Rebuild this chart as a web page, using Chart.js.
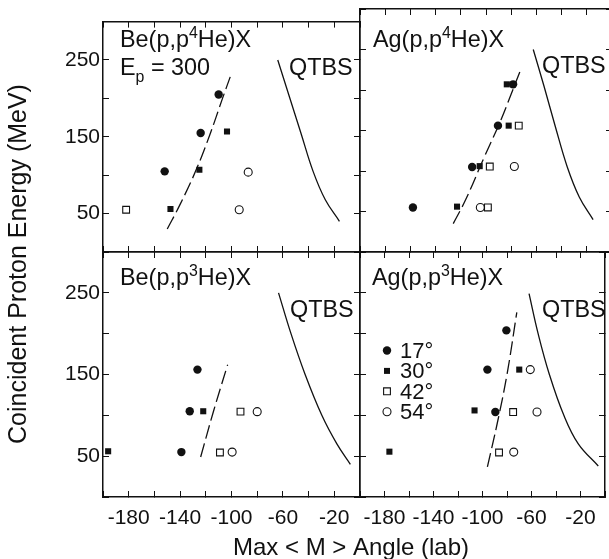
<!DOCTYPE html>
<html>
<head>
<meta charset="utf-8">
<script src="https://cdn.jsdelivr.net/npm/chart.js@4.4.1/dist/chart.umd.min.js"></script>
<style>
  html, body { margin: 0; padding: 0; background: #fff; overflow: hidden; width: 609px; height: 559px; }
  canvas { position: absolute; left: 0; top: 0; }
</style>
</head>
<body>
<canvas id="beHe4" width="620" height="559"></canvas>
<canvas id="agHe4" width="620" height="559"></canvas>
<canvas id="beHe3" width="620" height="559"></canvas>
<canvas id="agHe3" width="620" height="559"></canvas>
<script>
// axes: max <M> angle in degrees (lab), coincident proton energy in MeV
var angleRange = [-200, 0];
var energyRange = [0, 300];
var angleLabels = [-180, -140, -100, -60, -20];
var energyLabels = [50, 150, 250];
var detectorAngles = ['17°', '30°', '42°', '54°'];

// Be(p,p4He)X, Ep = 300
var be4_17 = [[-110, 205], [-124, 155], [-152, 105]];
var be4_30 = [[-103.5, 157], [-125, 107], [-147.5, 56]];
var be4_42 = [[-182, 55]];
var be4_54 = [[-87, 104], [-94, 55]];
var be4_fit = [[-150, 30], [-140, 62], [-128, 105], [-117, 152], [-107, 200], [-101, 228]];
var be4_qtbs = [[-64, 250], [-55.5, 205], [-46, 155], [-36.5, 105], [-27, 68], [-16, 40]];

// Ag(p,p4He)X
var ag4_17 = [[-158, 55], [-111, 105], [-90.5, 156], [-78.5, 207]];
var ag4_30 = [[-123, 56], [-105, 106], [-82, 156], [-83.5, 207]];
var ag4_42 = [[-98.5, 55], [-97, 105.5], [-74, 156]];
var ag4_54 = [[-104.5, 55], [-77.5, 105.5]];
var ag4_fit = [[-126, 35], [-116, 65], [-102, 115], [-89, 160], [-80, 195], [-72, 227]];
var ag4_qtbs = [[-62.5, 250], [-54, 205], [-45, 155], [-35.5, 105], [-26, 68], [-15, 40]];

// Be(p,p3He)X
var be3_17 = [[-126.5, 156], [-132.5, 105], [-139, 55]];
var be3_30 = [[-122, 105], [-196, 56]];
var be3_42 = [[-93, 104.5], [-109, 54.5]];
var be3_54 = [[-80, 104.5], [-99.5, 55]];
var be3_fit = [[-124, 49], [-114, 105], [-103, 162]];
var be3_qtbs = [[-63.4, 250], [-53.7, 200], [-42.7, 150], [-29.7, 100], [-18, 65], [-7.5, 40]];

// Ag(p,p3He)X
var ag3_17 = [[-80.5, 204], [-96, 156], [-89.5, 104]];
var ag3_30 = [[-70, 156], [-106.5, 106], [-176, 55.5]];
var ag3_42 = [[-75, 104], [-86.5, 54.5]];
var ag3_54 = [[-61, 156], [-55.5, 104], [-74.5, 55]];
var ag3_fit = [[-96, 37], [-88, 90], [-80, 150], [-72, 226]];
var ag3_qtbs = [[-62, 249], [-54.6, 200], [-45.4, 150], [-33.6, 100], [-21.8, 65], [-5.5, 38]];

var FONT = "'Liberation Sans', Arial, Helvetica, sans-serif";
var INK = '#111';
var W = 620, H = 559;

function pairs(a) {
    return a.map(function (p) { return { x: p[0], y: p[1] }; });
}

// frame side with inward ticks; size is the room the axis takes outside the plot
function axis(pos, range, step, labels, show, size) {
    var horizontal = pos === 'top' || pos === 'bottom';
    return {
        type: 'linear',
        position: pos,
        min: range[0],
        max: range[1],
        border: { display: true, color: INK, width: 1.5 },
        grid: { drawOnChartArea: false, color: INK, lineWidth: 1, tickLength: -6 },
        ticks: {
            display: show,
            stepSize: step,
            autoSkip: false,
            maxRotation: 0,
            padding: horizontal ? 15 : 9,
            color: INK,
            font: { family: FONT, size: 21 },
            callback: function (v) { return labels.indexOf(v) >= 0 ? String(v) : ''; }
        },
        afterFit: function (s) {
            if (horizontal) s.height = size; else s.width = size;
        }
    };
}

// text made of runs, with raised / lowered pieces
function drawRuns(ctx, x, y, runs, size) {
    ctx.textAlign = 'left';
    ctx.textBaseline = 'alphabetic';
    runs.forEach(function (r) {
        var s = (r.sup || r.sub) ? size * 0.68 : size;
        var dy = r.sup ? -size * 0.4 : (r.sub ? size * 0.3 : 0);
        ctx.font = s + 'px ' + FONT;
        ctx.fillText(r.t, x, y + dy);
        x += ctx.measureText(r.t).width;
    });
}

function markerDatasets(p) {
    return [
        { data: pairs(p.d17), pointStyle: 'circle', pointRadius: 4.2, backgroundColor: INK, borderWidth: 0 },
        { data: pairs(p.d30), pointStyle: 'rect', pointRadius: 4.3, backgroundColor: INK, borderWidth: 0 },
        { data: pairs(p.d42), pointStyle: 'rect', pointRadius: 4.8, backgroundColor: '#fff', borderColor: INK, borderWidth: 1.1 },
        { data: pairs(p.d54), pointStyle: 'circle', pointRadius: 4, backgroundColor: '#fff', borderColor: INK, borderWidth: 1.1 },
        { data: pairs(p.fit), showLine: true, pointRadius: 0, borderColor: INK, borderWidth: 1.3, borderDash: [14, 5], tension: 0.4 },
        { data: pairs(p.qtbs), showLine: true, pointRadius: 0, borderColor: INK, borderWidth: 1.3, tension: 0.4 }
    ];
}

function drawLegend(ctx) {
    var x = 387, y0 = 350.5, step = 20.4;
    detectorAngles.forEach(function (lab, i) {
        var y = y0 + i * step;
        ctx.beginPath();
        ctx.lineWidth = 1.1;
        ctx.strokeStyle = INK;
        ctx.fillStyle = (i < 2) ? INK : '#fff';
        if (i === 0 || i === 3) ctx.arc(x, y, i === 0 ? 4.2 : 4, 0, Math.PI * 2);
        else if (i === 1) ctx.rect(x - 3, y - 3, 6, 6);
        else ctx.rect(x - 3.4, y - 3.4, 6.8, 6.8);
        ctx.fill();
        if (i >= 2) ctx.stroke();
        ctx.fillStyle = INK;
        drawRuns(ctx, 400, y + 7.5, [{ t: lab }], 22);
    });
}

function drawAxisTitles(ctx) {
    ctx.fillStyle = INK;
    ctx.textAlign = 'center';
    ctx.textBaseline = 'middle';
    ctx.font = '24px ' + FONT;
    ctx.fillText('Max < M > Angle (lab)', 351, 548);
    ctx.save();
    ctx.translate(19, 264);
    ctx.rotate(-Math.PI / 2);
    ctx.font = '25px ' + FONT;
    ctx.fillText('Coincident Proton Energy (MeV)', 0, 0);
    ctx.restore();
}

var panels = [
    {
        id: 'beHe4', area: [103, 9, 360, 252], showX: false, showY: true,
        d17: be4_17, d30: be4_30, d42: be4_42, d54: be4_54, fit: be4_fit, qtbs: be4_qtbs,
        texts: [
            { x: 120, y: 47, runs: [{ t: 'Be(p,p' }, { t: '4', sup: true }, { t: 'He)X' }] },
            { x: 120, y: 75, runs: [{ t: 'E' }, { t: 'p', sub: true }, { t: ' = 300' }] },
            { x: 289, y: 75, runs: [{ t: 'QTBS' }] }
        ]
    },
    {
        id: 'agHe4', area: [360, 9, 612, 252], showX: false, showY: false,
        d17: ag4_17, d30: ag4_30, d42: ag4_42, d54: ag4_54, fit: ag4_fit, qtbs: ag4_qtbs,
        texts: [
            { x: 373, y: 47, runs: [{ t: 'Ag(p,p' }, { t: '4', sup: true }, { t: 'He)X' }] },
            { x: 542, y: 73, runs: [{ t: 'QTBS' }] }
        ]
    },
    {
        id: 'beHe3', area: [103, 252, 360, 497], showX: true, showY: true,
        d17: be3_17, d30: be3_30, d42: be3_42, d54: be3_54, fit: be3_fit, qtbs: be3_qtbs,
        texts: [
            { x: 120, y: 285, runs: [{ t: 'Be(p,p' }, { t: '3', sup: true }, { t: 'He)X' }] },
            { x: 290, y: 317, runs: [{ t: 'QTBS' }] }
        ],
        extra: drawAxisTitles
    },
    {
        id: 'agHe3', area: [360, 252, 612, 497], showX: true, showY: false,
        d17: ag3_17, d30: ag3_30, d42: ag3_42, d54: ag3_54, fit: ag3_fit, qtbs: ag3_qtbs,
        texts: [
            { x: 372, y: 285, runs: [{ t: 'Ag(p,p' }, { t: '3', sup: true }, { t: 'He)X' }] },
            { x: 542, y: 317, runs: [{ t: 'QTBS' }] }
        ],
        extra: drawLegend
    }
];

panels.forEach(function (p) {
    var a = p.area;
    // labelled axes take the whole margin on their side, the others take none
    var leftSize = p.showY ? a[0] : 0;
    var bottomSize = p.showX ? H - a[3] : 0;
    new Chart(document.getElementById(p.id), {
        type: 'scatter',
        data: { datasets: markerDatasets(p) },
        options: {
            responsive: false,
            animation: false,
            events: [],
            layout: {
                padding: { left: a[0] - leftSize, top: a[1], right: W - a[2], bottom: H - a[3] - bottomSize }
            },
            plugins: { legend: { display: false }, tooltip: { enabled: false } },
            scales: {
                x: axis('bottom', angleRange, 20, angleLabels, p.showX, bottomSize),
                xTop: axis('top', angleRange, 20, angleLabels, false, 0),
                y: axis('left', energyRange, 50, energyLabels, p.showY, leftSize),
                yRight: axis('right', energyRange, 50, energyLabels, false, 0)
            }
        },
        plugins: [{
            id: 'panelText',
            afterDraw: function (chart) {
                var ctx = chart.ctx;
                ctx.save();
                ctx.fillStyle = INK;
                p.texts.forEach(function (t) { drawRuns(ctx, t.x, t.y, t.runs, 23.4); });
                if (p.extra) p.extra(ctx);
                ctx.restore();
            }
        }]
    });
});
</script>
</body>
</html>
